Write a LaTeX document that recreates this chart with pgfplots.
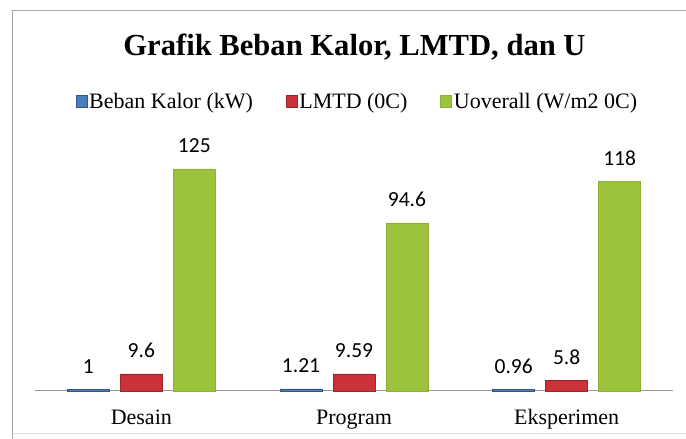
\documentclass[border=0pt]{standalone}
\usepackage{pgfplots}
\pgfplotsset{compat=1.18}
\usepackage{fontspec}
\setmainfont{Liberation Serif}
\newfontfamily\carlito{Carlito}
\definecolor{cblue}{HTML}{4A7EBB}
\definecolor{cred}{HTML}{CC3338}
\definecolor{cgreen}{HTML}{9DC23C}
\begin{document}
\begin{tikzpicture}
\useasboundingbox (0,0) rectangle (686bp,439bp);
\fill[white] (0,0) rectangle (686bp,439bp);
\draw[gray!25, line width=0.8bp] (12bp,6bp) -- (686bp,6bp);
\draw[gray!70, line width=1bp] (12bp,0) -- (12bp,428bp) -- (686bp,428bp);
\node[anchor=base, font=\bfseries\fontsize{30.6bp}{34bp}\selectfont] at (354.5bp,383bp) {Grafik Beban Kalor, LMTD, dan U};
\begin{axis}[
  at={(35bp,48bp)}, anchor=south west,
  scale only axis, width=638bp, height=222bp,
  ybar=11bp, bar width=42bp,
  xmin=-0.5, xmax=2.5, ymin=0, ymax=125,
  xtick=data, xticklabels={Desain,Program,Eksperimen},
  major tick length=0pt,
  axis y line=none,
  axis x line*=bottom,
  x axis line style={-, draw=gray!80, line width=1bp},
  xticklabel style={anchor=base, yshift=-34bp, font=\fontsize{22bp}{24bp}\selectfont},
  clip=false,
  nodes near coords,
  every node near coord/.append style={anchor=base, yshift=16bp, font=\carlito\fontsize{21.5bp}{24bp}\selectfont, text=black},
  point meta=explicit symbolic,
  legend columns=3,
  legend style={draw=none, fill=none, at={(0.5055,1.302)}, anchor=center,
    font=\fontsize{22bp}{24bp}\selectfont, inner sep=0pt,
    /tikz/every even column/.append style={column sep=31bp}},
  legend image code/.code={\fill[#1] (0bp,-5bp) rectangle (11bp,6.5bp);},
]
\addplot[fill=cblue, draw=cblue!70!black] coordinates {(0,1) [1] (1,1.21) [1.21] (2,0.96) [0.96]};
\addplot[fill=cred, draw=cred!75!black] coordinates {(0,9.6) [9.6] (1,9.59) [9.59] (2,5.8) [5.8]};
\addplot[fill=cgreen, draw=cgreen!90!black] coordinates {(0,125) [125] (1,94.6) [94.6] (2,118) [118]};
\legend{Beban Kalor (kW), LMTD (0C), Uoverall (W/m2 0C)}
\end{axis}
\end{tikzpicture}
\end{document}
